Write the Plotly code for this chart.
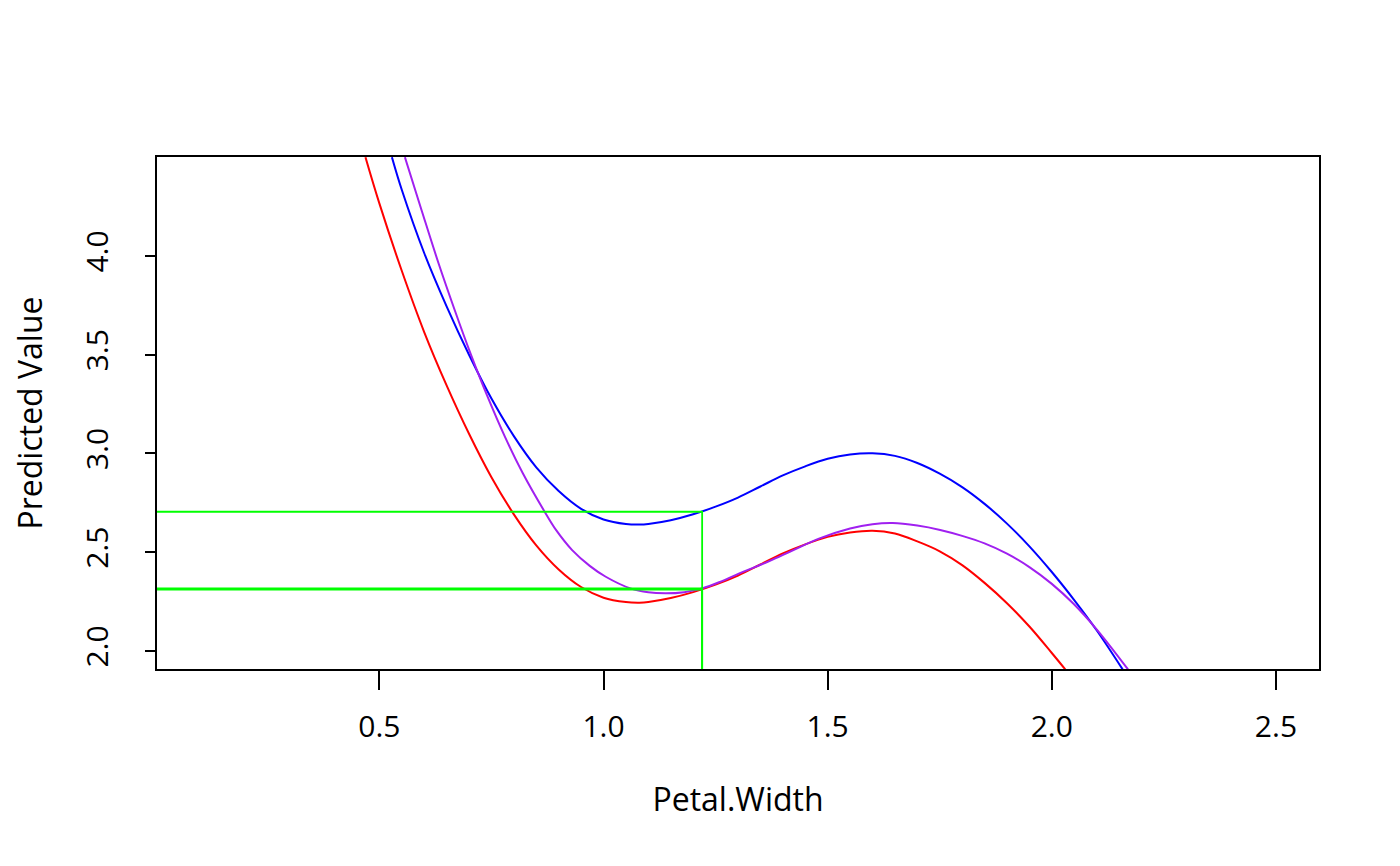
import plotly.graph_objects as go

# curves (Petal.Width -> predicted value)
red_x = [0.469, 0.50, 0.55, 0.60, 0.65, 0.70, 0.75, 0.80, 0.85, 0.90, 0.95, 1.00, 1.05,
         1.08, 1.10, 1.15, 1.20, 1.25, 1.30, 1.35, 1.40, 1.45, 1.50, 1.55, 1.60, 1.65,
         1.70, 1.75, 1.80, 1.85, 1.90, 1.95, 2.00, 2.03]
red_y = [4.500, 4.266, 3.925, 3.615, 3.345, 3.100, 2.880, 2.692, 2.535, 2.413, 2.324,
         2.270, 2.248, 2.245, 2.248, 2.268, 2.298, 2.336, 2.382, 2.438, 2.494, 2.540,
         2.578, 2.600, 2.609, 2.595, 2.555, 2.505, 2.435, 2.345, 2.242, 2.124, 1.990,
         1.907]

blue_x = [0.528, 0.55, 0.60, 0.65, 0.70, 0.75, 0.80, 0.85, 0.90, 0.95, 1.00, 1.05, 1.08,
          1.10, 1.15, 1.20, 1.25, 1.30, 1.35, 1.40, 1.45, 1.50, 1.55, 1.60, 1.65, 1.70,
          1.75, 1.80, 1.85, 1.90, 1.95, 2.00, 2.05, 2.10, 2.158]
blue_y = [4.500, 4.335, 4.015, 3.745, 3.500, 3.278, 3.088, 2.930, 2.810, 2.720, 2.666,
          2.643, 2.640, 2.643, 2.662, 2.692, 2.731, 2.777, 2.833, 2.889, 2.935, 2.973,
          2.995, 3.001, 2.988, 2.952, 2.898, 2.830, 2.745, 2.645, 2.530, 2.400, 2.258,
          2.105, 1.907]

purple_x = [0.557, 0.594, 0.632, 0.669, 0.703, 0.740, 0.780, 0.820, 0.869, 0.894, 0.930,
            0.970, 1.005, 1.060, 1.100, 1.139, 1.180, 1.220, 1.260, 1.303, 1.370, 1.420,
            1.482, 1.550, 1.600, 1.645, 1.700, 1.751, 1.800, 1.850, 1.900, 1.950, 2.000,
            2.049, 2.100, 2.170]
purple_y = [4.500, 4.233, 3.963, 3.720, 3.508, 3.295, 3.085, 2.900, 2.704, 2.613, 2.511,
            2.430, 2.376, 2.317, 2.297, 2.292, 2.298, 2.317, 2.350, 2.393, 2.455, 2.507,
            2.570, 2.620, 2.642, 2.648, 2.635, 2.613, 2.583, 2.545, 2.493, 2.425, 2.340,
            2.238, 2.110, 1.907]

# reference point marked with green guide lines
probe_x = 1.22
probe_vals = {"red": 2.311, "blue": 2.705, "purple": 2.317}

x_range = [0.004, 2.596]
y_range = [1.909, 4.501]
x_ticks = [0.5, 1.0, 1.5, 2.0, 2.5]
y_ticks = [2.0, 2.5, 3.0, 3.5, 4.0]

font = "Open Sans"

fig = go.Figure()
for xs, ys, col in [(red_x, red_y, "#FF0000"), (blue_x, blue_y, "#0000FF"),
                    (purple_x, purple_y, "#A020F0")]:
    fig.add_trace(go.Scatter(x=xs, y=ys, mode="lines",
                             line=dict(color=col, width=2, shape="spline", smoothing=1.0),
                             showlegend=False, hoverinfo="skip"))

for name, v in probe_vals.items():
    fig.add_trace(go.Scatter(x=[x_range[0] - 0.01, probe_x, probe_x],
                             y=[v, v, y_range[0] - 0.01], mode="lines",
                             line=dict(color="#00FF00", width=1.8),
                             showlegend=False, hoverinfo="skip"))

axis = dict(showline=True, linecolor="black", linewidth=1.5, mirror=True,
            ticks="outside", tickcolor="black", tickwidth=1.5,
            showgrid=False, zeroline=False,
            tickfont=dict(family=font, size=30, color="black"))

fig.update_layout(
    width=1400, height=866,
    # page body adds an 8px offset, so margins are shifted to keep the plot box in place
    margin=dict(l=149, r=89, t=149, b=205, autoexpand=False),
    paper_bgcolor="white", plot_bgcolor="white",
    xaxis=dict(axis, range=x_range, tickvals=x_ticks, ticktext=[f"{t:.1f}" for t in x_ticks],
               ticklen=19, ticklabelstandoff=11,
               title=dict(text="Petal.Width", font=dict(family=font, size=32, color="black"),
                          standoff=44)),
    yaxis=dict(axis, range=y_range, tickvals=y_ticks, ticktext=[f"{t:.1f}" for t in y_ticks],
               ticklen=10, tickangle=-90, ticklabelstandoff=25,
               title=dict(text="Predicted Value", font=dict(family=font, size=32, color="black"),
                          standoff=39)),
)

fig.write_html("out.html")
